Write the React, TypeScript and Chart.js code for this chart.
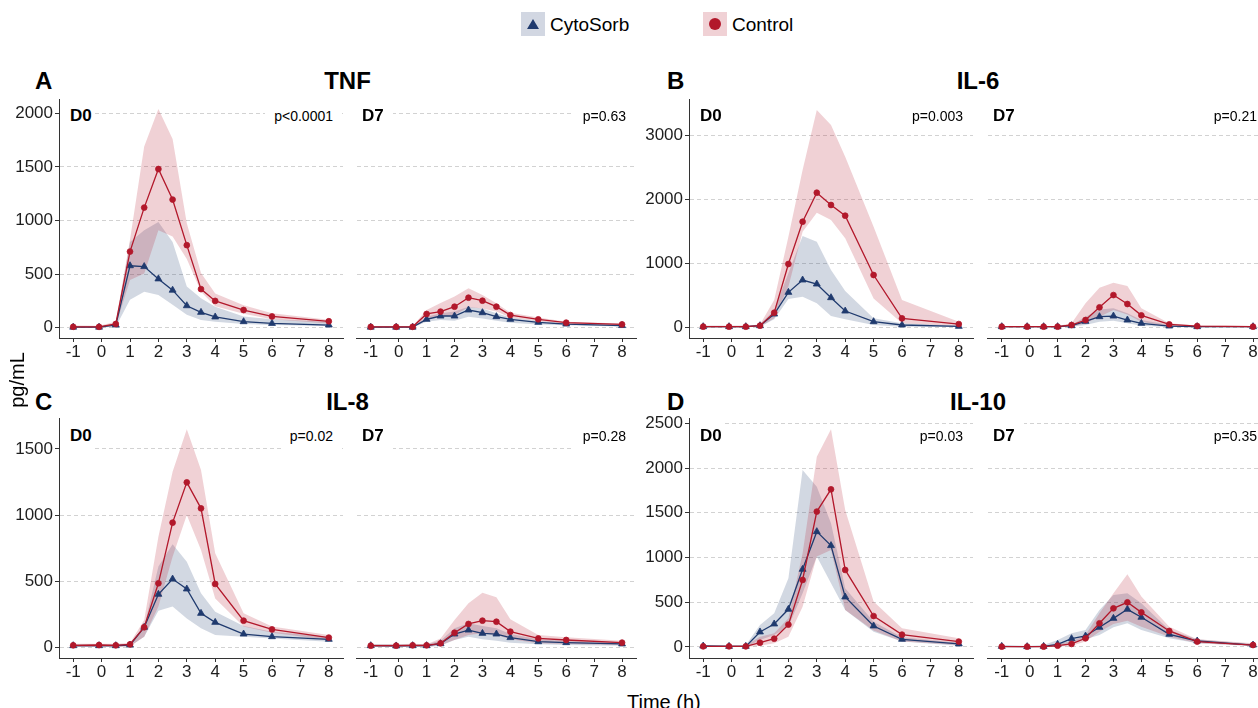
import React, { useEffect, useRef } from "react";
import { Chart, registerables } from "chart.js";

Chart.register(...registerables);

const FONT = '"Liberation Sans", Arial, Helvetica, sans-serif';
const RED = "#B2182B";
const NAVY = "#1F3A6E";
const RED_FILL = "rgba(178,24,43,0.2)";
const NAVY_FILL = "rgba(31,58,110,0.2)";
const TEXT = "#1e1e1e";
const AXIS = "#333333";

// ---------- data ----------
const timePoints = [-1, -0.09, 0.5, 1, 1.5, 2, 2.5, 3, 3.5, 4, 5, 6, 8];
const xTicks = [-1, 0, 1, 2, 3, 4, 5, 6, 7, 8];

const tnfTicks = [0, 500, 1000, 1500, 2000];
const il6Ticks = [0, 1000, 2000, 3000];
const il8Ticks = [0, 500, 1000, 1500];
const il10Ticks = [0, 500, 1000, 1500, 2000, 2500];

const tnfRange = [-96, 2133];
const il6Range = [-161, 3573];
const il8Range = [-78, 1734];
const il10Range = [-123, 2559];

const cytokineNames = ["TNF", "IL-6", "IL-8", "IL-10"];
const panelLetters = ["A", "B", "C", "D"];
const dayLabels = ["D0", "D7"];
const pValues = ["p<0.0001", "p=0.63", "p=0.003", "p=0.21", "p=0.02", "p=0.28", "p=0.03", "p=0.35"];

// TNF D0
const tnfD0Control = [8, 8, 35, 710, 1120, 1480, 1195, 770, 360, 250, 165, 105, 60];
const tnfD0ControlLow = [0, 0, 15, 445, 505, 910, 850, 640, 335, 200, 130, 80, 40];
const tnfD0ControlHigh = [20, 18, 55, 820, 1690, 2040, 1760, 975, 510, 320, 210, 135, 75];
const tnfD0Cyto = [5, 5, 25, 578, 570, 455, 350, 205, 143, 100, 56, 40, 25];
const tnfD0CytoLow = [0, 0, 10, 260, 335, 305, 215, 120, 72, 56, 35, 25, 15];
const tnfD0CytoHigh = [12, 12, 40, 800, 910, 985, 800, 385, 275, 195, 105, 80, 55];
// TNF D7
const tnfD7Control = [8, 8, 8, 128, 150, 196, 280, 252, 196, 118, 78, 47, 31];
const tnfD7ControlLow = [3, 3, 3, 87, 103, 118, 190, 180, 150, 96, 62, 34, 22];
const tnfD7ControlHigh = [15, 15, 15, 165, 230, 290, 367, 305, 227, 140, 96, 56, 40];
const tnfD7Cyto = [5, 5, 5, 78, 109, 109, 165, 140, 103, 78, 50, 34, 20];
const tnfD7CytoLow = [2, 2, 2, 56, 72, 65, 103, 87, 65, 47, 31, 22, 12];
const tnfD7CytoHigh = [10, 10, 10, 103, 134, 150, 196, 180, 134, 96, 62, 40, 25];
// IL-6 D0
const il6D0Control = [16, 16, 16, 31, 234, 995, 1656, 2109, 1917, 1750, 823, 146, 57];
const il6D0ControlLow = [5, 5, 5, 15, 146, 640, 1500, 1797, 1682, 1396, 458, 68, 26];
const il6D0ControlHigh = [30, 30, 30, 50, 432, 1422, 2464, 3401, 3167, 2672, 1578, 432, 94];
const il6D0Cyto = [16, 16, 16, 31, 213, 552, 745, 682, 469, 260, 94, 42, 21];
const il6D0CytoLow = [5, 5, 5, 15, 130, 448, 484, 380, 182, 130, 42, 16, 10];
const il6D0CytoHigh = [30, 30, 30, 50, 276, 850, 1432, 1344, 901, 573, 146, 68, 31];
// IL-6 D7
const il6D7Control = [16, 16, 16, 16, 42, 120, 318, 510, 370, 193, 52, 26, 16];
const il6D7ControlLow = [5, 5, 5, 5, 16, 68, 172, 276, 208, 94, 16, 8, 8];
const il6D7ControlHigh = [25, 25, 25, 25, 68, 380, 625, 703, 651, 302, 68, 36, 26];
const il6D7Cyto = [16, 16, 16, 16, 31, 99, 172, 182, 120, 68, 26, 16, 16];
const il6D7CytoLow = [5, 5, 5, 5, 16, 42, 94, 109, 68, 31, 10, 8, 8];
const il6D7CytoHigh = [25, 25, 25, 25, 42, 172, 286, 302, 224, 120, 42, 26, 26];
// IL-8 D0
const il8D0Control = [18, 20, 18, 25, 154, 486, 944, 1248, 1052, 481, 204, 138, 76];
const il8D0ControlLow = [5, 5, 5, 10, 83, 310, 687, 1002, 737, 372, 159, 113, 58];
const il8D0ControlHigh = [30, 30, 30, 35, 209, 838, 1329, 1649, 1342, 712, 259, 159, 96];
const il8D0Cyto = [15, 15, 15, 20, 154, 403, 518, 443, 259, 191, 103, 83, 63];
const il8D0CytoLow = [5, 5, 5, 10, 83, 279, 310, 221, 146, 96, 83, 70, 45];
const il8D0CytoHigh = [25, 25, 25, 30, 159, 612, 780, 649, 410, 272, 164, 121, 83];
// IL-8 D7
const il8D7Control = [15, 15, 18, 18, 33, 113, 179, 204, 196, 121, 70, 58, 38];
const il8D7ControlLow = [5, 5, 5, 5, 20, 58, 96, 108, 96, 63, 33, 28, 20];
const il8D7ControlHigh = [25, 25, 30, 25, 70, 209, 335, 415, 380, 214, 96, 78, 53];
const il8D7Cyto = [15, 13, 15, 15, 30, 103, 133, 108, 103, 76, 45, 38, 28];
const il8D7CytoLow = [5, 5, 5, 5, 15, 58, 83, 63, 53, 38, 25, 20, 15];
const il8D7CytoHigh = [25, 25, 25, 25, 53, 146, 184, 164, 146, 103, 63, 50, 40];
// IL-10 D0
const il10D0Control = [7, 7, 7, 48, 93, 250, 749, 1513, 1762, 861, 346, 138, 60];
const il10D0ControlLow = [0, 0, 0, 15, 41, 115, 451, 1010, 1084, 414, 183, 60, 22];
const il10D0ControlHigh = [20, 20, 20, 115, 153, 320, 1047, 2127, 2433, 1531, 507, 209, 97];
const il10D0Cyto = [11, 7, 7, 168, 257, 421, 868, 1289, 1133, 559, 235, 86, 34];
const il10D0CytoLow = [0, 0, 0, 78, 134, 227, 600, 1010, 712, 414, 171, 60, 15];
const il10D0CytoHigh = [20, 20, 20, 246, 376, 767, 1978, 1792, 1382, 656, 283, 108, 48];
// IL-10 D7
const il10D7Control = [4, 4, 4, 15, 34, 97, 265, 432, 499, 387, 179, 60, 22];
const il10D7ControlLow = [0, 0, 0, 4, 15, 60, 171, 257, 294, 227, 115, 41, 15];
const il10D7ControlHigh = [10, 10, 10, 40, 60, 134, 376, 600, 812, 563, 227, 86, 41];
const il10D7Cyto = [7, 4, 7, 30, 93, 123, 220, 320, 421, 332, 142, 67, 22];
const il10D7CytoLow = [0, 0, 0, 4, 41, 86, 134, 220, 265, 190, 97, 41, 11];
const il10D7CytoHigh = [12, 12, 22, 78, 153, 190, 414, 581, 600, 488, 190, 86, 34];

// ---------- layout ----------
const W = 1258;
const COL_X = [59, 352, 689, 983];
const ROW_Y = [99, 418];
const ROW_H = [239, 240];
const PLOT_W = 284;
const PAD_TOP = 20;
const PAD_RIGHT = 6;
const X_AXIS_H = 30;
const Y_AXIS_W = 50;

type Spec = {
  id: string;
  col: number;
  row: number;
  d0: boolean;
  range: number[];
  ticks: number[];
  ctrl: number[];
  ctrlLo: number[];
  ctrlHi: number[];
  cyto: number[];
  cytoLo: number[];
  cytoHi: number[];
  tag: string;
  p: string;
};

const PANELS: Spec[] = [
  { id: "tnf0", col: 0, row: 0, d0: true, range: tnfRange, ticks: tnfTicks, ctrl: tnfD0Control, ctrlLo: tnfD0ControlLow, ctrlHi: tnfD0ControlHigh, cyto: tnfD0Cyto, cytoLo: tnfD0CytoLow, cytoHi: tnfD0CytoHigh, tag: dayLabels[0], p: pValues[0] },
  { id: "tnf7", col: 1, row: 0, d0: false, range: tnfRange, ticks: tnfTicks, ctrl: tnfD7Control, ctrlLo: tnfD7ControlLow, ctrlHi: tnfD7ControlHigh, cyto: tnfD7Cyto, cytoLo: tnfD7CytoLow, cytoHi: tnfD7CytoHigh, tag: dayLabels[1], p: pValues[1] },
  { id: "il60", col: 2, row: 0, d0: true, range: il6Range, ticks: il6Ticks, ctrl: il6D0Control, ctrlLo: il6D0ControlLow, ctrlHi: il6D0ControlHigh, cyto: il6D0Cyto, cytoLo: il6D0CytoLow, cytoHi: il6D0CytoHigh, tag: dayLabels[0], p: pValues[2] },
  { id: "il67", col: 3, row: 0, d0: false, range: il6Range, ticks: il6Ticks, ctrl: il6D7Control, ctrlLo: il6D7ControlLow, ctrlHi: il6D7ControlHigh, cyto: il6D7Cyto, cytoLo: il6D7CytoLow, cytoHi: il6D7CytoHigh, tag: dayLabels[1], p: pValues[3] },
  { id: "il80", col: 0, row: 1, d0: true, range: il8Range, ticks: il8Ticks, ctrl: il8D0Control, ctrlLo: il8D0ControlLow, ctrlHi: il8D0ControlHigh, cyto: il8D0Cyto, cytoLo: il8D0CytoLow, cytoHi: il8D0CytoHigh, tag: dayLabels[0], p: pValues[4] },
  { id: "il87", col: 1, row: 1, d0: false, range: il8Range, ticks: il8Ticks, ctrl: il8D7Control, ctrlLo: il8D7ControlLow, ctrlHi: il8D7ControlHigh, cyto: il8D7Cyto, cytoLo: il8D7CytoLow, cytoHi: il8D7CytoHigh, tag: dayLabels[1], p: pValues[5] },
  { id: "il100", col: 2, row: 1, d0: true, range: il10Range, ticks: il10Ticks, ctrl: il10D0Control, ctrlLo: il10D0ControlLow, ctrlHi: il10D0ControlHigh, cyto: il10D0Cyto, cytoLo: il10D0CytoLow, cytoHi: il10D0CytoHigh, tag: dayLabels[0], p: pValues[6] },
  { id: "il107", col: 3, row: 1, d0: false, range: il10Range, ticks: il10Ticks, ctrl: il10D7Control, ctrlLo: il10D7ControlLow, ctrlHi: il10D7ControlHigh, cyto: il10D7Cyto, cytoLo: il10D7CytoLow, cytoHi: il10D7CytoHigh, tag: dayLabels[1], p: pValues[7] },
];

const toPoints = (arr: number[]) => arr.map((y, i) => ({ x: timePoints[i], y }));

function PanelChart({ spec }: { spec: Spec }) {
  const ref = useRef<HTMLCanvasElement | null>(null);
  const yW = spec.d0 ? Y_AXIS_W : 0;
  const cw = yW + PLOT_W + PAD_RIGHT;
  const ch = PAD_TOP + ROW_H[spec.row] + X_AXIS_H;
  const left = COL_X[spec.col] - yW;
  const top = ROW_Y[spec.row] - PAD_TOP;

  useEffect(() => {
    if (!ref.current) return;
    const band = (data: number[], fill: any, color: string) => ({
      data: toPoints(data),
      fill,
      backgroundColor: color,
      borderColor: "transparent",
      borderWidth: 0,
      pointRadius: 0,
      pointHoverRadius: 0,
    });
    const chart = new Chart(ref.current, {
      type: "line",
      data: {
        datasets: [
          {
            label: "Control",
            data: toPoints(spec.ctrl),
            borderColor: RED,
            backgroundColor: RED,
            borderWidth: 1.3,
            pointStyle: "circle",
            pointRadius: 2.9,
            pointBorderWidth: 0.8,
            pointBackgroundColor: RED,
            pointBorderColor: RED,
            fill: false,
          },
          {
            label: "CytoSorb",
            data: toPoints(spec.cyto),
            borderColor: NAVY,
            backgroundColor: NAVY,
            borderWidth: 1.3,
            pointStyle: "triangle",
            pointRadius: 4,
            pointBorderWidth: 0.8,
            pointBackgroundColor: NAVY,
            pointBorderColor: NAVY,
            fill: false,
          },
          band(spec.ctrlHi, "+1", RED_FILL),
          band(spec.ctrlLo, false, "transparent"),
          band(spec.cytoHi, "+1", NAVY_FILL),
          band(spec.cytoLo, false, "transparent"),
        ] as any,
      },
      options: {
        responsive: false,
        animation: false,
        events: [],
        layout: { padding: { top: PAD_TOP, right: PAD_RIGHT, left: 0, bottom: 0 } },
        plugins: { legend: { display: false }, tooltip: { enabled: false } },
        scales: {
          x: {
            type: "linear",
            min: -1.5,
            max: 8.5,
            afterBuildTicks: (s: any) => {
              s.ticks = xTicks.map((v) => ({ value: v }));
            },
            afterFit: (s: any) => {
              s.height = X_AXIS_H;
            },
            ticks: {
              autoSkip: false,
              maxRotation: 0,
              padding: 1.5,
              color: TEXT,
              font: { family: FONT, size: 17, lineHeight: 1 },
              callback: (v: any) => String(v),
            },
            grid: {
              display: true,
              drawOnChartArea: false,
              drawTicks: true,
              tickLength: 4,
              tickColor: AXIS,
              color: AXIS,
            },
            border: { display: true, color: AXIS, width: 1 },
          },
          y: {
            type: "linear",
            min: spec.range[0],
            max: spec.range[1],
            afterBuildTicks: (s: any) => {
              s.ticks = spec.ticks.map((v) => ({ value: v }));
            },
            afterFit: (s: any) => {
              s.width = yW;
            },
            ticks: {
              display: spec.d0,
              padding: 2,
              color: TEXT,
              font: { family: FONT, size: 17, lineHeight: 1 },
              callback: (v: any) => String(v),
            },
            grid: {
              display: true,
              color: "#d2d2d2",
              lineWidth: 1,
              drawTicks: spec.d0,
              tickLength: 4,
              tickColor: AXIS,
              tickBorderDash: [],
            },
            border: { display: spec.d0, color: AXIS, width: 1, dash: [4, 3] },
          },
        },
      } as any,
    });
    return () => chart.destroy();
  }, []);

  return (
    <canvas
      ref={ref}
      width={cw}
      height={ch}
      style={{ position: "absolute", left, top, width: cw, height: ch }}
    />
  );
}

function Label(props: {
  text: string;
  x: number;
  cy: number;
  size: number;
  bold?: boolean;
  align?: "left" | "right";
  box?: boolean;
  padL?: number;
  padR?: number;
}) {
  const { text, x, cy, size, bold, align = "left", box } = props;
  const pt = box ? 5 : 0;
  const pb = box ? 9 : 0;
  const pl = box ? props.padL ?? 9 : 0;
  const pr = box ? props.padR ?? 9 : 0;
  const style: any = {
    position: "absolute",
    top: cy - pt - 0.488 * size,
    fontSize: size,
    lineHeight: size + "px",
    fontWeight: bold ? 700 : 400,
    whiteSpace: "nowrap",
    padding: `${pt}px ${pr}px ${pb}px ${pl}px`,
    background: box ? "#fff" : "transparent",
    color: "#000",
  };
  if (align === "left") style.left = x - pl;
  else style.right = W - x - pr;
  return <div style={style}>{text}</div>;
}

export default function App() {
  const tagCy = [115.5, 435];
  const pCy = [116, 435.5];
  const titleCy = [81, 401.5];
  return (
    <div
      style={{
        position: "fixed",
        left: 0,
        top: 0,
        width: W,
        height: 708,
        overflow: "hidden",
        background: "#fff",
        fontFamily: FONT,
      }}
    >
      {/* legend */}
      <div style={{ position: "absolute", left: 521, top: 12, width: 24, height: 24, background: "rgb(210,215,226)" }} />
      <div
        style={{
          position: "absolute",
          left: 527,
          top: 19,
          width: 0,
          height: 0,
          borderLeft: "6px solid transparent",
          borderRight: "6px solid transparent",
          borderBottom: `10px solid ${NAVY}`,
        }}
      />
      <Label text="CytoSorb" x={550} cy={24} size={19} />
      <div style={{ position: "absolute", left: 703, top: 12, width: 24, height: 24, background: "rgb(240,209,213)" }} />
      <div style={{ position: "absolute", left: 709, top: 18, width: 12, height: 12, borderRadius: 6, background: RED }} />
      <Label text="Control" x={732} cy={24} size={19} />

      {/* panel letters & titles */}
      {panelLetters.map((l, i) => (
        <Label key={"l" + l} text={l} x={i % 2 === 0 ? 35 : 667} cy={titleCy[i < 2 ? 0 : 1]} size={24} bold />
      ))}
      {cytokineNames.map((n, i) => (
        <div
          key={"t" + n}
          style={{
            position: "absolute",
            left: (i % 2 === 0 ? 347.5 : 978) - 100,
            width: 200,
            textAlign: "center",
            top: titleCy[i < 2 ? 0 : 1] - 0.488 * 24,
            fontSize: 24,
            lineHeight: "24px",
            fontWeight: 700,
            color: "#000",
          }}
        >
          {n}
        </div>
      ))}

      {PANELS.map((p) => (
        <PanelChart key={p.id} spec={p} />
      ))}

      {PANELS.map((p) => (
        <Label
          key={"tag" + p.id}
          text={p.tag}
          x={COL_X[p.col] + (p.d0 ? 11 : 10)}
          cy={tagCy[p.row]}
          size={17}
          bold
          box
          padL={p.d0 ? 10 : 9}
          padR={p.d0 ? 3 : 9}
        />
      ))}
      {PANELS.map((p) => (
        <Label
          key={"p" + p.id}
          text={p.p}
          x={COL_X[p.col] + PLOT_W - 10}
          cy={pCy[p.row]}
          size={14}
          align="right"
          box
        />
      ))}

      {/* axis titles */}
      <div
        style={{
          position: "absolute",
          left: 17 - 50,
          top: 380 - 10,
          width: 100,
          height: 20,
          lineHeight: "20px",
          fontSize: 20,
          textAlign: "center",
          transform: "rotate(-90deg)",
          color: "#000",
        }}
      >
        pg/mL
      </div>
      <div
        style={{
          position: "absolute",
          left: 627,
          top: 692,
          fontSize: 20,
          lineHeight: "20px",
          whiteSpace: "nowrap",
          color: "#000",
        }}
      >
        Time (h)
      </div>
    </div>
  );
}
